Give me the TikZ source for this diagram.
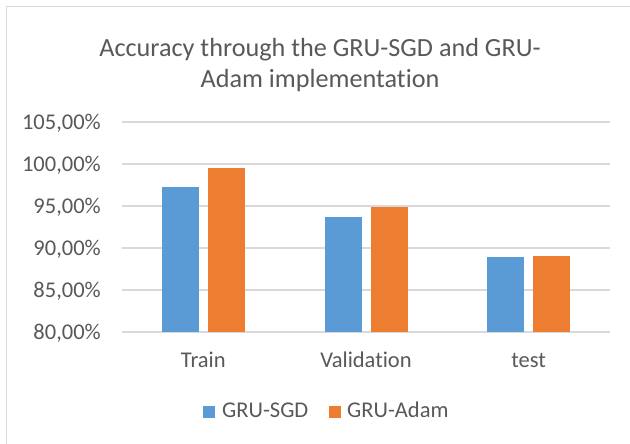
\documentclass[tikz,border=0pt]{standalone}
\usepackage{fontspec}
\setmainfont{Carlito}[Ligatures=NoCommon]
\definecolor{sgd}{HTML}{5B9BD5}
\definecolor{adam}{HTML}{ED7D31}
\definecolor{txt}{HTML}{595959}
\definecolor{grid}{HTML}{D9D9D9}
\definecolor{frame}{HTML}{D9D9D9}
\tikzset{
  gridline/.style={draw=grid, line width=1.4pt},
  titlelbl/.style={anchor=base, text=txt, font=\fontsize{26.2}{31}\selectfont, inner sep=0pt},
  ticklbl/.style={anchor=base east, text=txt, font=\fontsize{22.5}{27}\selectfont, inner sep=0pt},
  catlbl/.style={anchor=base, text=txt, font=\fontsize{22.5}{27}\selectfont, inner sep=0pt},
  leglbl/.style={anchor=base west, text=txt, font=\fontsize{22.5}{27}\selectfont, inner sep=0pt},
  barsgd/.style={fill=sgd},
  baradam/.style={fill=adam},
}
% value (in %) -> vertical pixel position
\newcommand{\vy}[1]{\fpeval{332-(#1-80)*8.4}}
\begin{document}
\begin{tikzpicture}[x=1pt,y=-1pt]
\useasboundingbox (0,0) rectangle (630,444);
\fill[white] (0,0) rectangle (630,444);
% chart frame (only top and left edges fall inside the page)
\draw[frame, line width=1pt] (6,450) -- (6,7) -- (640,7);

% title
\node[titlelbl] (title1) at (320,57) {Accuracy through the GRU-SGD and GRU-};
\node[titlelbl] (title2) at (320,88) {Adam implementation};

% gridlines and tick labels
\foreach \v/\lab [count=\i] in {80/{80,00\%},85/{85,00\%},90/{90,00\%},95/{95,00\%},100/{100,00\%},105/{105,00\%}} {
  \coordinate (gl\i) at (122,\vy{\v});
  \coordinate (gr\i) at (610,\vy{\v});
  \draw[gridline] (gl\i) -- (gr\i);
  \node[ticklbl] (tick\i) at (101,\vy{\v}+7.2) {\lab};
}

% bars
\foreach \c/\s/\a [count=\j] in {203.3/97.26/99.52, 366/93.69/94.88, 528.7/88.89/89.01} {
  \fill[barsgd] (\c-41.5,332) rectangle (\c-4.5,\vy{\s});
  \fill[baradam] (\c+4.5,332) rectangle (\c+41.5,\vy{\a});
}

% category labels
\node[catlbl] (cTrain) at (203.3,367) {Train};
\node[catlbl] (cVal) at (366,367) {Validation};
\node[catlbl] (cTest) at (528.7,367) {test};

% legend
\fill[barsgd] (203,405.5) rectangle (215,417.5);
\node[leglbl] (lSGD) at (222,417.5) {GRU-SGD};
\fill[baradam] (329,405.5) rectangle (341,417.5);
\node[leglbl] (lAdam) at (347,417.5) {GRU-Adam};
\end{tikzpicture}
\end{document}
